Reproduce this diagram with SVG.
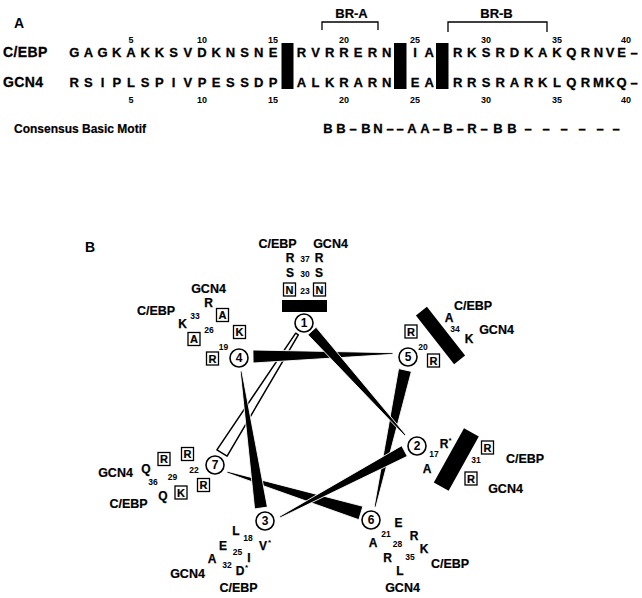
<svg xmlns="http://www.w3.org/2000/svg" width="642" height="598" viewBox="0 0 642 598">
<style>
  text { font-family: "Liberation Sans", Arial, Helvetica, sans-serif; font-weight: bold; fill: #000; }
  .panel { font-size: 14px; }
  .name { font-size: 14px; letter-spacing: 0.4px; stroke: #000; stroke-width: 0.3; }
  .seq { font-size: 13px; text-anchor: middle; stroke: #000; stroke-width: 0.3; }
  .pos { font-size: 9px; text-anchor: middle; }
  .cons { font-size: 12px; stroke: #000; stroke-width: 0.2; }
  .br { font-size: 13px; text-anchor: middle; stroke: #000; stroke-width: 0.2; }
  .lab { font-size: 12.5px; text-anchor: middle; stroke: #000; stroke-width: 0.2; }
  .aa { font-size: 12px; text-anchor: middle; stroke: #000; stroke-width: 0.25; }
  .bx { font-size: 11px; text-anchor: middle; stroke: #000; stroke-width: 0.2; }
  .sm { font-size: 8.5px; text-anchor: middle; }
  .ast { font-size: 8px; }
  .cn { font-size: 12px; text-anchor: middle; }
  .box { fill: #fff; stroke: #000; stroke-width: 1.3; }
  .ring { fill: #fff; stroke: #000; stroke-width: 1.6; }
  .bar { fill: #000; }
  .wedge { fill: #000; stroke: #fff; stroke-width: 0.9; stroke-linejoin: round; }
  .open { fill: #fff; stroke: #000; stroke-width: 1.5; stroke-linejoin: round; }
  .bracket { fill: none; stroke: #000; stroke-width: 1.3; }
</style>
<rect width="642" height="598" fill="#fff"/>

<!-- Panel A: aligned basic regions -->
<g id="panelA">
  <text class="panel" x="14" y="28">A</text>
  <g id="brackets">
    <path class="bracket" d="M322,30 V22 H378 V30"/>
    <path class="bracket" d="M448,32 V22 H547 V32"/>
    <text class="br" x="351.5" y="18">BR-A</text>
    <text class="br" x="496.5" y="18">BR-B</text>
  </g>
  <g id="row-cebp">
    <text class="name" x="3" y="57">C/EBP</text>
    <text class="seq" y="57" x="74.2 88.4 102.6 116.8 131 145.2 159.4 173.6 187.8 202 216.2 230.4 244.6 258.8 273 301.4 315.6 329.8 344 358.2 372.4 386.6 415 429.2 457.6 471.8 486 500.2 514.4 528.6 542.8 557 571.2 585.4 598.5 610 621.5 634">GAGKAKKSVDKNSNERVRRERNIARKSRDKAKQRNVE–</text>
  </g>
  <g id="row-gcn4">
    <text class="name" x="3" y="87">GCN4</text>
    <text class="seq" y="87" x="74.2 88.4 102.6 116.8 131 145.2 159.4 173.6 187.8 202 216.2 230.4 244.6 258.8 273 301.4 315.6 329.8 344 358.2 372.4 386.6 415 429.2 457.6 471.8 486 500.2 514.4 528.6 542.8 557 571.2 585.4 598.5 610 621.5 634">RSIPLSPIVPESSDPALKRARNEARRSRARKLQRMKQ–</text>
  </g>
  <g id="gaps">
    <rect class="bar" x="281.5" y="43" width="12" height="46"/>
    <rect class="bar" x="394" y="43" width="12.5" height="46"/>
    <rect class="bar" x="436" y="43" width="12.5" height="46"/>
  </g>
  <g id="numbering">
    <text class="pos" x="131" y="43">5</text>
    <text class="pos" x="202" y="43">10</text>
    <text class="pos" x="273" y="43">15</text>
    <text class="pos" x="344" y="43">20</text>
    <text class="pos" x="415" y="43">25</text>
    <text class="pos" x="486" y="43">30</text>
    <text class="pos" x="557" y="43">35</text>
    <text class="pos" x="626" y="43">40</text>
    <text class="pos" x="131" y="103">5</text>
    <text class="pos" x="202" y="103">10</text>
    <text class="pos" x="273" y="103">15</text>
    <text class="pos" x="344" y="103">20</text>
    <text class="pos" x="415" y="103">25</text>
    <text class="pos" x="486" y="103">30</text>
    <text class="pos" x="557" y="103">35</text>
    <text class="pos" x="626" y="103">40</text>
  </g>
  <g id="consensus">
    <text class="cons" x="14" y="133">Consensus Basic Motif</text>
    <text class="seq" y="133" x="328 341 353 366 378 390 400 412 425 436 448 460 472 484 498 512 528 546 564 582 600 616">BB–BN––AA–B–R–BB––––––</text>
  </g>
</g>

<!-- Panel B: helical wheel -->
<text class="panel" x="85" y="252">B</text>

<g id="connectors">
  <!-- 7 to 1 : open wedge -->
  <polygon class="open" points="216.9,449.8 295.7,333.2 298.3,334.8 227.1,456.2"/>
  <!-- 6 to 7 -->
  <polygon class="wedge" points="362.9,506.3 227.2,471.2 226.8,472.8 358.8,519.7"/>
  <!-- 5 to 6 -->
  <polygon class="wedge" points="398.6,368.6 374.2,506.8 375.8,507.2 411.4,371.4"/>
  <!-- 4 to 5 -->
  <polygon class="wedge" points="252.9,350 393,352.7 393,354.3 253.1,363"/>
  <!-- 3 to 4 -->
  <polygon class="wedge" points="254.6,508.9 240.2,371.1 241.8,370.9 267.4,507.1"/>
  <!-- 1 to 2 -->
  <polygon class="wedge" points="307.9,334.7 404.4,435.5 405.6,434.5 316.1,327.3"/>
  <!-- 2 to 3 -->
  <polygon class="wedge" points="401.7,445.7 279.6,516.3 280.4,517.7 407.3,456.3"/>
</g>

<g id="pos1">
  <text class="lab" x="277.5" y="248">C/EBP</text>
  <text class="lab" x="330.5" y="248">GCN4</text>
  <text class="aa" x="290" y="262">R</text>
  <text class="sm" x="305" y="262">37</text>
  <text class="aa" x="319" y="262">R</text>
  <text class="aa" x="290" y="277">S</text>
  <text class="sm" x="305" y="277">30</text>
  <text class="aa" x="319" y="277">S</text>
  <rect class="box" x="283.5" y="283" width="12" height="13"/>
  <text class="bx" x="289.5" y="293.5">N</text>
  <text class="sm" x="305" y="294">23</text>
  <rect class="box" x="313.5" y="283" width="12" height="13"/>
  <text class="bx" x="319.5" y="293.5">N</text>
  <rect class="bar" x="282" y="300" width="45" height="12"/>
  <circle class="ring" cx="304" cy="323" r="9"/>
  <text class="cn" x="304" y="327.3">1</text>
</g>

<g id="pos4">
  <text class="lab" x="208.5" y="293">GCN4</text>
  <text class="aa" x="208.5" y="307">R</text>
  <text class="lab" x="156" y="315">C/EBP</text>
  <text class="aa" x="182.5" y="328">K</text>
  <text class="sm" x="195" y="319">33</text>
  <rect class="box" x="216.5" y="308.5" width="12" height="13"/>
  <text class="bx" x="222.5" y="319">A</text>
  <rect class="box" x="188" y="332.5" width="12" height="13"/>
  <text class="bx" x="194" y="343">A</text>
  <text class="sm" x="209" y="333">26</text>
  <rect class="box" x="233.5" y="325.5" width="12" height="13"/>
  <text class="bx" x="239.5" y="336">K</text>
  <text class="sm" x="223.5" y="350">19</text>
  <rect class="box" x="206.5" y="352" width="12" height="13"/>
  <text class="bx" x="212.5" y="362.5">R</text>
  <circle class="ring" cx="239" cy="358" r="9"/>
  <text class="cn" x="239" y="362.3">4</text>
</g>

<g id="pos5">
  <text class="lab" x="473" y="310">C/EBP</text>
  <text class="aa" x="449" y="322">A</text>
  <text class="sm" x="455" y="332">34</text>
  <text class="aa" x="469" y="343">K</text>
  <text class="lab" x="496.5" y="334">GCN4</text>
  <polygon class="bar" points="415.9,315.4 426.9,306.8 465.1,355.6 454.1,364.2"/>
  <rect class="box" x="405" y="325" width="12" height="13"/>
  <text class="bx" x="411" y="335.5">R</text>
  <text class="sm" x="423" y="350">20</text>
  <rect class="box" x="427.5" y="354" width="12" height="13"/>
  <text class="bx" x="433.5" y="364.5">R</text>
  <circle class="ring" cx="408" cy="357" r="9"/>
  <text class="cn" x="408" y="361.3">5</text>
</g>

<g id="pos2">
  <polygon class="bar" points="464,428.3 478.8,436.5 448.6,490.7 433.8,482.5"/>
  <text class="aa" x="444" y="448">R</text>
  <text class="ast" x="448.5" y="443">*</text>
  <text class="sm" x="434" y="457">17</text>
  <text class="aa" x="427" y="473">A</text>
  <text class="sm" x="476" y="463">31</text>
  <rect class="box" x="481.5" y="441" width="12" height="13"/>
  <text class="bx" x="487.5" y="451.5">R</text>
  <text class="lab" x="525" y="463">C/EBP</text>
  <rect class="box" x="465" y="472" width="12" height="13"/>
  <text class="bx" x="471" y="482.5">R</text>
  <text class="lab" x="505.5" y="493">GCN4</text>
  <circle class="ring" cx="417" cy="446" r="9"/>
  <text class="cn" x="417" y="450.3">2</text>
</g>

<g id="pos7">
  <rect class="box" x="181.5" y="447.5" width="12" height="13"/>
  <text class="bx" x="187.5" y="458">R</text>
  <rect class="box" x="158" y="452.5" width="12" height="13"/>
  <text class="bx" x="164" y="463">R</text>
  <text class="aa" x="146" y="473">Q</text>
  <text class="lab" x="115.5" y="477">GCN4</text>
  <text class="sm" x="194" y="473">22</text>
  <text class="sm" x="172.5" y="480">29</text>
  <text class="sm" x="153" y="485">36</text>
  <rect class="box" x="197.5" y="478.5" width="12" height="13"/>
  <text class="bx" x="203.5" y="489">R</text>
  <rect class="box" x="175" y="486" width="12" height="13"/>
  <text class="bx" x="181" y="496.5">K</text>
  <text class="aa" x="163" y="500">Q</text>
  <text class="lab" x="128.5" y="508">C/EBP</text>
  <circle class="ring" cx="215" cy="465" r="9"/>
  <text class="cn" x="215" y="469.3">7</text>
</g>

<g id="pos3">
  <circle class="ring" cx="265" cy="521" r="9"/>
  <text class="cn" x="265" y="525.3">3</text>
  <text class="aa" x="236" y="535">L</text>
  <text class="sm" x="248" y="541">18</text>
  <text class="aa" x="263" y="550">V</text>
  <text class="ast" x="268" y="545">*</text>
  <text class="aa" x="223" y="550">E</text>
  <text class="sm" x="237.5" y="555">25</text>
  <text class="aa" x="249" y="562">I</text>
  <text class="aa" x="212" y="563">A</text>
  <text class="sm" x="227" y="568">32</text>
  <text class="aa" x="240" y="575">D</text>
  <text class="ast" x="245" y="570">*</text>
  <text class="lab" x="187.5" y="578">GCN4</text>
  <text class="lab" x="238.5" y="592">C/EBP</text>
</g>

<g id="pos6">
  <circle class="ring" cx="371" cy="520" r="9"/>
  <text class="cn" x="371" y="524.3">6</text>
  <text class="aa" x="398.5" y="527">E</text>
  <text class="sm" x="386" y="537">21</text>
  <text class="aa" x="373" y="547">A</text>
  <text class="aa" x="414" y="540">R</text>
  <text class="sm" x="397.5" y="547">28</text>
  <text class="aa" x="387.5" y="562">R</text>
  <text class="aa" x="424" y="553">K</text>
  <text class="sm" x="410" y="560">35</text>
  <text class="aa" x="400" y="575">L</text>
  <text class="lab" x="450" y="568">C/EBP</text>
  <text class="lab" x="402.5" y="592">GCN4</text>
</g>
</svg>
